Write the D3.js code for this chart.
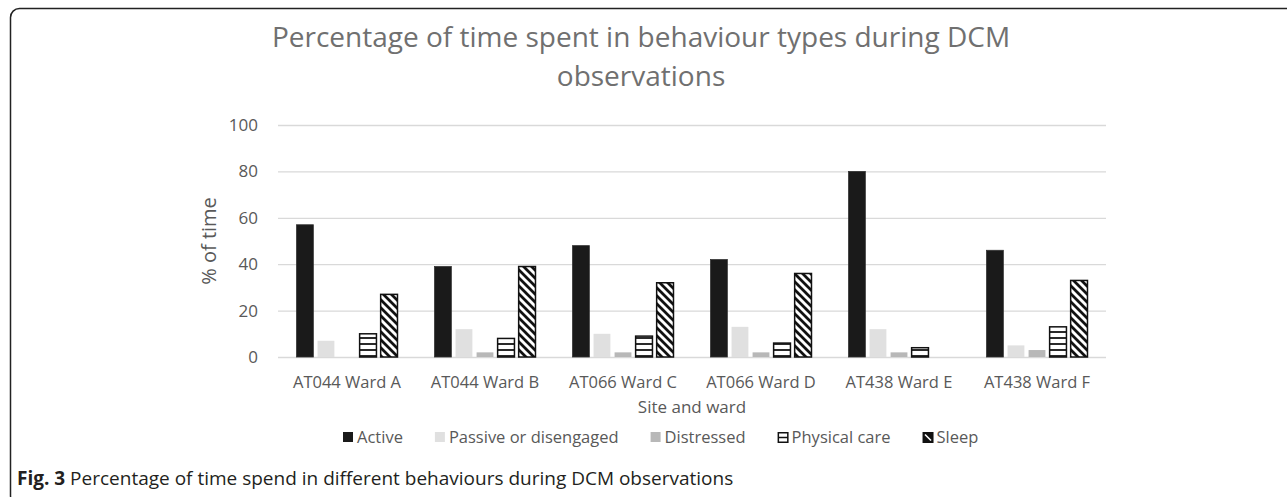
<!DOCTYPE html>
<html>
<head>
<meta charset="utf-8">
<script src="https://cdn.jsdelivr.net/npm/d3@7"></script>
<style>
  body { margin: 0; background: #fff; }
  text { font-family: "Open Sans", sans-serif; }
</style>
</head>
<body>
<div id="chart"></div>
<script>
var width = 1287;
var height = 497;

// data
var categories = ["AT044 Ward A", "AT044 Ward B", "AT066 Ward C", "AT066 Ward D", "AT438 Ward E", "AT438 Ward F"];
var seriesNames = ["Active", "Passive or disengaged", "Distressed", "Physical care", "Sleep"];
var active = [57, 39, 48, 42, 80, 46];
var passive = [7, 12, 10, 13, 12, 5];
var distressed = [0, 2, 2, 2, 2, 3];
var physical = [10, 8, 9, 6, 4, 13];
var sleep = [27, 39, 32, 36, 0, 33];
var yTicks = [0, 20, 40, 60, 80, 100];

var seriesValues = [active, passive, distressed, physical, sleep];

var svg = d3.select("#chart")
  .append("svg")
    .attr("width", width)
    .attr("height", height);

// patterns for the hatched series
var defs = svg.append("defs");
var hatchH = defs.append("pattern")
  .attr("id", "hatch-h")
  .attr("patternUnits", "userSpaceOnUse")
  .attr("width", 6).attr("height", 6);
hatchH.append("rect").attr("width", 6).attr("height", 6).attr("fill", "#fff");
hatchH.append("line")
  .attr("x1", 0).attr("x2", 6).attr("y1", 3).attr("y2", 3)
  .attr("stroke", "#111").attr("stroke-width", 1.8);

var hatchD = defs.append("pattern")
  .attr("id", "hatch-d")
  .attr("patternUnits", "userSpaceOnUse")
  .attr("width", 8).attr("height", 8);
hatchD.append("rect").attr("width", 8).attr("height", 8).attr("fill", "#fff");
hatchD.append("path")
  .attr("d", "M0,0 L8,8 M-2,6 L2,10 M6,-2 L10,2")
  .attr("stroke", "#111").attr("stroke-width", 2.8);

var fills = ["#1a1a1a", "#e0e0e0", "#b8b8b8", "url(#hatch-h)", "url(#hatch-d)"];
var strokes = ["#333", "none", "none", "#111", "#111"];

// figure frame
svg.append("rect")
  .attr("x", 10.5).attr("y", 8.5)
  .attr("width", 1290).attr("height", 496)
  .attr("rx", 9)
  .attr("fill", "none")
  .attr("stroke", "#222")
  .attr("stroke-width", 1.5);

var margin = {left: 278, right: 181, top: 125, bottom: 140};
var plotW = width - margin.left - margin.right;
var plotH = height - margin.top - margin.bottom;

var g = svg.append("g")
  .attr("transform", "translate(" + margin.left + "," + margin.top + ")");

var x0 = d3.scaleBand()
  .domain(categories)
  .range([0, plotW]);

var x1 = d3.scaleBand()
  .domain(seriesNames)
  .range([0, x0.bandwidth()])
  .paddingInner(0.2)
  .paddingOuter(0.88);

var y = d3.scaleLinear()
  .domain([0, 100])
  .range([plotH, 0]);

// gridlines + y tick labels
var yAxis = g.append("g")
  .call(d3.axisLeft(y).tickValues(yTicks).tickSize(-plotW).tickPadding(20));
yAxis.select(".domain").remove();
yAxis.selectAll(".tick line")
  .attr("stroke", "#d9d9d9")
  .attr("stroke-width", 1.3);
yAxis.selectAll(".tick text")
  .style("font-family", "Open Sans")
  .style("font-size", "17px")
  .attr("fill", "#595959");

// bars
var rows = [];
categories.forEach(function(c, i){
  seriesNames.forEach(function(s, j){
    rows.push({cat: c, series: s, idx: j, value: seriesValues[j][i]});
  });
});

g.append("g")
  .selectAll("rect")
  .data(rows.filter(d => d.value > 0))
  .enter()
  .append("rect")
    .attr("x", d => x0(d.cat) + x1(d.series))
    .attr("y", d => y(d.value))
    .attr("width", x1.bandwidth())
    .attr("height", d => y(0) - y(d.value))
    .attr("fill", d => fills[d.idx])
    .attr("stroke", d => strokes[d.idx])
    .attr("stroke-width", d => d.idx >= 3 ? 1.5 : 0.8);

// x axis labels
var xAxis = g.append("g")
  .attr("transform", "translate(0," + plotH + ")")
  .call(d3.axisBottom(x0).tickSize(0).tickPadding(19));
xAxis.select(".domain").remove();
xAxis.selectAll(".tick text")
  .style("font-family", "Open Sans")
  .style("font-size", "16.5px")
  .attr("fill", "#595959");

// titles
var title = svg.append("text")
  .attr("x", 641)
  .attr("text-anchor", "middle")
  .attr("fill", "#707070")
  .style("font-size", "28px");
title.append("tspan").attr("x", 641).attr("y", 47)
  .text("Percentage of time spent in behaviour types during DCM");
title.append("tspan").attr("x", 641).attr("y", 86)
  .text("observations");

svg.append("text")
  .attr("x", margin.left + plotW / 2)
  .attr("y", 413)
  .attr("text-anchor", "middle")
  .attr("fill", "#595959")
  .style("font-size", "17px")
  .text("Site and ward");

svg.append("text")
  .attr("transform", "translate(216," + (margin.top + plotH / 2) + ") rotate(-90)")
  .attr("text-anchor", "middle")
  .attr("fill", "#595959")
  .style("font-size", "20px")
  .text("% of time");

// legend
var legend = svg.append("g").attr("transform", "translate(0,437)");
var lx = 343;
seriesNames.forEach(function(s, j){
  var item = legend.append("g").attr("transform", "translate(" + lx + ",0)");
  if (j < 3) {
    item.append("rect")
      .attr("x", 0).attr("y", -5)
      .attr("width", 10).attr("height", 10)
      .attr("fill", fills[j]);
  } else if (j === 3) {
    item.append("rect")
      .attr("x", 0.75).attr("y", -4.25)
      .attr("width", 9.5).attr("height", 9.5)
      .attr("fill", "#fff").attr("stroke", "#111").attr("stroke-width", 1.5);
    item.append("line")
      .attr("x1", 0.75).attr("x2", 10.25).attr("y1", 0.5).attr("y2", 0.5)
      .attr("stroke", "#111").attr("stroke-width", 1.5);
  } else {
    item.append("rect")
      .attr("x", 0).attr("y", -5)
      .attr("width", 11).attr("height", 11)
      .attr("fill", "#111");
    item.append("line")
      .attr("x1", 2.5).attr("x2", 8.5).attr("y1", -2.5).attr("y2", 3.5)
      .attr("stroke", "#fff").attr("stroke-width", 1.6);
  }
  var t = item.append("text")
    .attr("x", 14).attr("y", 6)
    .attr("fill", "#595959")
    .style("font-size", "16.5px")
    .text(s);
  lx += 14 + t.node().getComputedTextLength() + 32;
});

// caption
var cap = svg.append("text")
  .attr("x", 17).attr("y", 485)
  .attr("fill", "#231f20")
  .style("font-size", "19px");
cap.append("tspan").style("font-weight", "bold").text("Fig. 3");
cap.append("tspan").text(" Percentage of time spend in different behaviours during DCM observations");
</script>
</body>
</html>
